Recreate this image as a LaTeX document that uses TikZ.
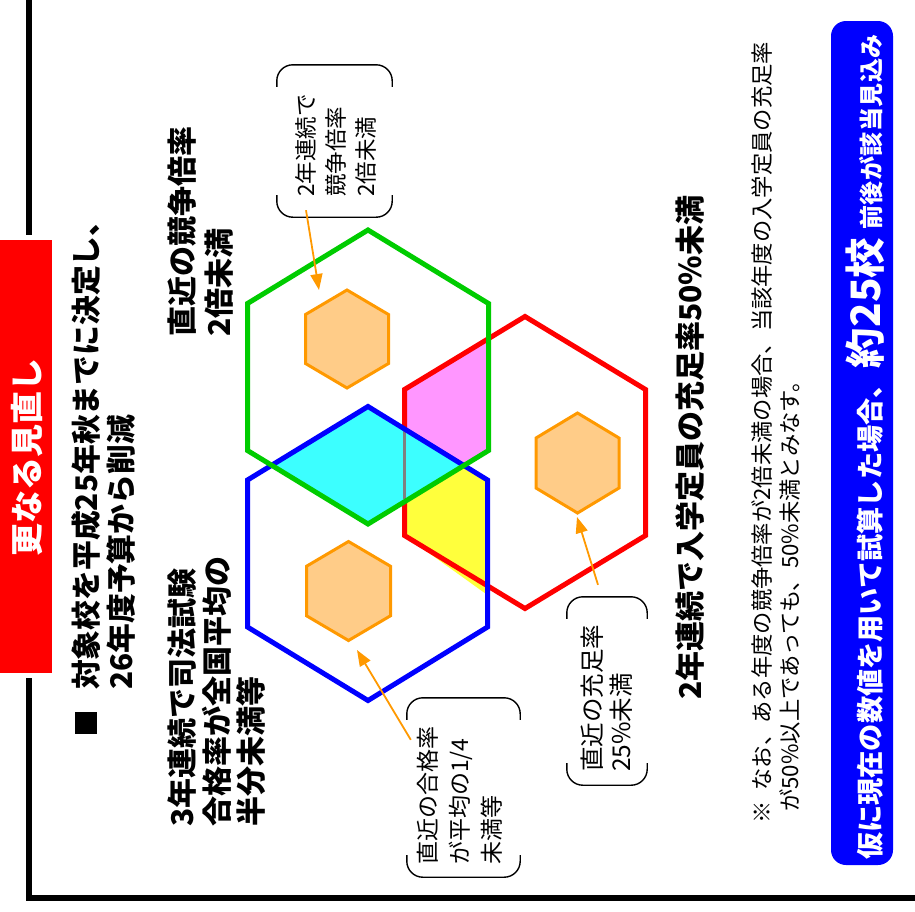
\documentclass[tikz,border=0pt]{standalone}
\usepackage{fontspec}
\setmainfont{Noto Sans CJK JP}
\usetikzlibrary{arrows.meta}
\definecolor{hgreen}{RGB}{0,204,0}
\definecolor{hblue}{RGB}{0,0,255}
\definecolor{hred}{RGB}{255,0,0}
\definecolor{horange}{RGB}{255,153,0}
\definecolor{hfill}{RGB}{255,204,136}
\definecolor{hmag}{RGB}{255,150,255}
\definecolor{hcyan}{RGB}{60,255,255}
\definecolor{hyel}{RGB}{255,255,60}
\begin{document}
\begin{tikzpicture}[x=1pt,y=-1pt,
  hexbig/.style={line width=5pt, line join=miter},
  hexsmall/.style={draw=horange, fill=hfill, line width=3pt, line join=miter},
  lbl/.style={rotate=90, inner sep=0pt, align=left, anchor=north west},
  brk/.style={draw=black, line width=1.4pt, rounded corners=16pt},
  arr/.style={draw=horange, line width=1.8pt, -{Triangle[length=16pt,width=12pt]}},
  cbox/.style={inner sep=0pt, draw=none}]
\useasboundingbox (0,0) rectangle (915,911);
\fill[white] (0,0) rectangle (915,911);
% frame
\draw[line width=6pt] (28.5,0) -- (28.5,898) -- (915,898);
\node[fill=hred, draw=white, line width=5pt, minimum width=58pt, minimum height=438pt, inner sep=0pt, anchor=center] (title) at (25.5,456.5) {};
\node[rotate=90, text=white, font=\bfseries\fontsize{33}{36}\selectfont, inner sep=0pt] (titletext) at (27,457) {更なる見直し};
% bullet
\node[fill=black, minimum width=22pt, minimum height=22pt, inner sep=0pt] (bul) at (86,723) {};
\node[lbl, font=\bfseries\fontsize{29.8}{35}\selectfont] (btext) at (71,690) {対象校を平成25年秋までに決定し、\\26年度予算から削減};
% labels
\node[lbl, font=\bfseries\fontsize{30}{37}\selectfont] (lab1) at (168,337) {直近の競争倍率\\2倍未満};
\node[lbl, font=\bfseries\fontsize{30}{34.5}\selectfont] (lab2) at (168,827) {3年連続で司法試験\\合格率が全国平均の\\半分未満等};
\node[rotate=90, inner sep=0pt, anchor=west, font=\bfseries\fontsize{30}{34}\selectfont] (lab3) at (690,700) {2年連続で入学定員の充足率50\%未満};
% hexagon vertices
\coordinate (G1) at (368,230); \coordinate (G2) at (488.5,303.5); \coordinate (G3) at (488.5,450.5);
\coordinate (G4) at (368,524); \coordinate (G5) at (247.5,450.5); \coordinate (G6) at (247.5,303.5);
\coordinate (B1) at (368,406.5); \coordinate (B2) at (487.5,480); \coordinate (B3) at (487.5,627);
\coordinate (B4) at (368,700.5); \coordinate (B5) at (247.5,627); \coordinate (B6) at (247.5,480);
\coordinate (R1) at (525,316.5); \coordinate (R2) at (645.5,389.5); \coordinate (R3) at (645.5,535.5);
\coordinate (R4) at (525,608.5); \coordinate (R5) at (404.5,535.5); \coordinate (R6) at (404.5,389.5);
% overlap fills
\begin{scope}
  \clip (R1)--(R2)--(R3)--(R4)--(R5)--(R6)--cycle;
  \fill[hmag] (G1)--(G2)--(G3)--(G4)--(G5)--(G6)--cycle;
  \fill[hyel] (B1)--(B2)--(B3)--(B4)--(B5)--(B6)--cycle;
\end{scope}
\fill[hyel] (404.5,535.5) -- (487.5,595) -- (487.5,585.8) -- cycle;
\draw[hexbig, draw=hred] (R1)--(R2)--(R3)--(R4)--(R5)--(R6)--cycle;
\begin{scope}
  \clip (G1)--(G2)--(G3)--(G4)--(G5)--(G6)--cycle;
  \fill[hcyan] (B1)--(B2)--(B3)--(B4)--(B5)--(B6)--cycle;
\end{scope}
\draw[gray, line width=3pt] (404.5,431) -- (404.5,499);
\draw[hexbig, draw=hblue] (B1)--(B2)--(B3)--(B4)--(B5)--(B6)--cycle;
\draw[hexbig, draw=hgreen] (G1)--(G2)--(G3)--(G4)--(G5)--(G6)--cycle;
% small hexagons
\draw[hexsmall] (347,290)--(388.5,314.5)--(388.5,363.5)--(347,388)--(305.5,363.5)--(305.5,314.5)--cycle;
\draw[hexsmall] (577.5,413)--(619,438)--(619,488)--(577.5,513)--(536,488)--(536,438)--cycle;
\draw[hexsmall] (348.5,541.5)--(390.5,566.25)--(390.5,615.75)--(348.5,640.5)--(306.5,615.75)--(306.5,566.25)--cycle;
% callouts
\node[cbox, minimum width=115pt, minimum height=152pt] (c1) at (334.5,141) {};
\node[cbox, minimum width=113pt, minimum height=179pt] (c2) at (463.5,787.5) {};
\node[cbox, minimum width=80pt, minimum height=188pt] (c3) at (607,691) {};
\foreach \c in {c1,c2,c3}{
  \draw[brk] ([yshift=-22pt]\c.north west) -- (\c.north west) -- (\c.north east) -- ([yshift=-22pt]\c.north east);
  \draw[brk] ([yshift=22pt]\c.south west) -- (\c.south west) -- (\c.south east) -- ([yshift=22pt]\c.south east);
}
\node[lbl, font=\fontsize{22.5}{30}\selectfont] (c1t) at (295.5,197) {2年連続で\\競争倍率\\2倍未満};
\node[lbl, font=\fontsize{23}{32}\selectfont] (c2t) at (416.5,865) {直近の合格率\\が平均の1/4\\未満等};
\node[lbl, font=\fontsize{24.5}{29}\selectfont] (c3t) at (580.5,772) {直近の充足率\\25\%未満};
% arrows
\coordinate (a1) at ([xshift=-28.5pt,yshift=7pt]c1.south);
\coordinate (t1) at (319,290);
\coordinate (a2) at ([xshift=4pt,yshift=-42pt]c2.north west);
\coordinate (t2) at (357,650);
\coordinate (a3) at ([xshift=-9pt,yshift=12pt]c3.north);
\coordinate (t3) at (577,517);
\draw[arr] (a1) -- (t1);
\draw[arr] (a2) -- (t2);
\draw[arr] (a3) -- (t3);
% note
\node[rotate=90, inner sep=0pt, anchor=west, font=\fontsize{22.3}{26}\selectfont] (note1) at (762,824) {※\hspace{0.5em}なお、ある年度の競争倍率が2倍未満の場合、当該年度の入学定員の充足率};
\node[rotate=90, inner sep=0pt, anchor=west, font=\fontsize{22.3}{26}\selectfont] (note2) at (790,812) {が50\%以上であっても、50\%未満とみなす。};
% result box
\fill[hblue, rounded corners=15pt] (831,21) rectangle (893,865);
\node[rotate=90, inner sep=0pt, anchor=base west, text=white, font=\bfseries] (res) at (880,860) {{\fontsize{27.2}{30}\selectfont 仮に現在の数値を用いて試算した場合、}\hspace{3pt}{\fontsize{40.5}{44}\selectfont 約25校}\hspace{8pt}{\fontsize{24}{28}\selectfont\addfontfeature{LetterSpace=2}前後が該当見込み}};
\end{tikzpicture}
\end{document}
